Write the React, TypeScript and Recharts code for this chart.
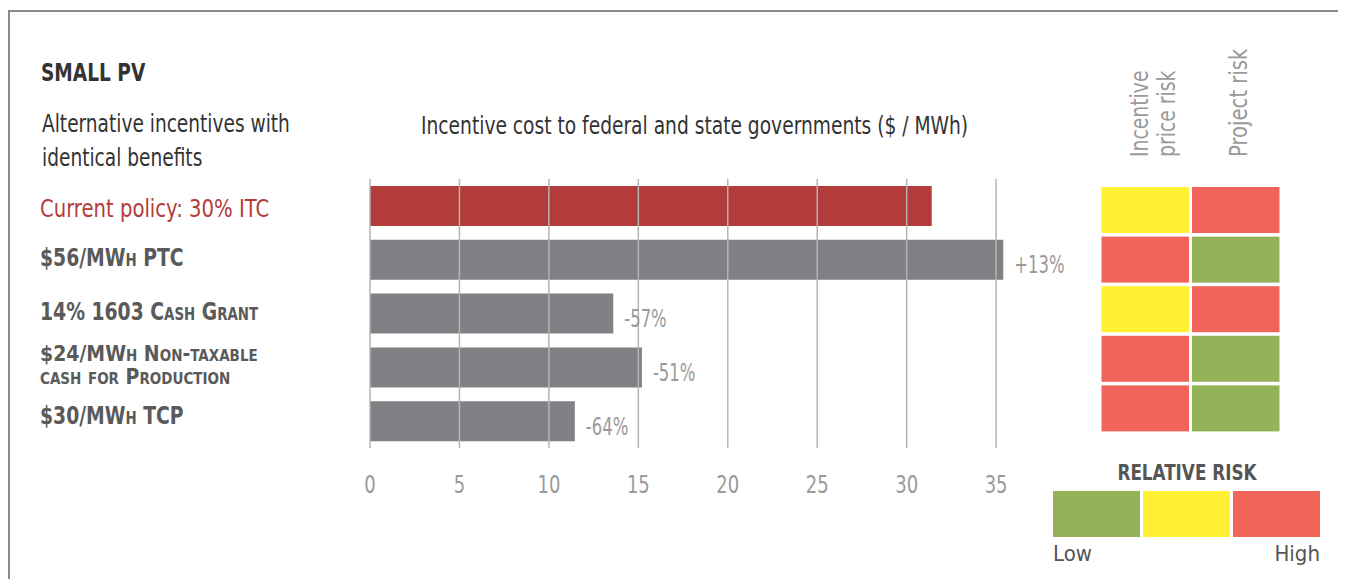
import React from "react";
import { BarChart, Bar, XAxis, YAxis, ReferenceLine, Cell, LabelList } from "recharts";

const categories = [
  "Current policy: 30% ITC",
  "$56/MWh PTC",
  "14% 1603 Cash Grant",
  "$24/MWh Non-taxable\ncash for Production",
  "$30/MWh TCP",
];
const incentiveCost = [31.4, 35.4, 13.6, 15.2, 11.45];
const changeLabels = ["", "+13%", "-57%", "-51%", "-64%"];
const xTicks = [0, 5, 10, 15, 20, 25, 30, 35];
const incentivePriceRisk = ["Medium", "High", "Medium", "High", "High"];
const projectRisk = ["High", "Low", "High", "Low", "Low"];
const riskLevels = ["Low", "Medium", "High"];

const FONT = "'Liberation Sans Narrow', 'DejaVu Sans Condensed', 'Roboto Condensed', 'Liberation Sans', sans-serif";
const RED = "#b33b39";
const GRAY_BAR = "#808184";
const riskColor: Record<string, string> = { Low: "#94b358", Medium: "#fff033", High: "#f0645a" };

const data = categories.map((name, i) => ({ name, cost: incentiveCost[i], change: changeLabels[i] }));
const riskData = categories.map((name, i) => ({
  name,
  priceCell: 1,
  projectCell: 1,
  priceRisk: incentivePriceRisk[i],
  projRisk: projectRisk[i],
}));

const CategoryTick = (props: any) => {
  const { y, payload, index } = props;
  const lines: string[] = String(payload.value).split("\n");
  const isCurrent = index === 0;
  const multi = lines.length > 1;
  const fs = multi ? 21 : 24;
  const sx = isCurrent ? 0.91 : multi ? 1 : 0.87;
  const lh = 23;
  const startDy = -((lines.length - 1) * lh) / 2;
  const yOff = index === 4 ? -6 : index === 0 ? 3 : -2;
  return (
    <text
      transform={`translate(32,${y + yOff}) scale(${sx},1)`}
      x={0}
      y={0}
      textAnchor="start"
      dominantBaseline="central"
      fontFamily={FONT}
      fontSize={fs}
      fontWeight={isCurrent ? 400 : 700}
      fill={isCurrent ? "#b33b39" : "#5a5a5a"}
      style={isCurrent ? undefined : { fontVariant: "small-caps" }}
    >
      {lines.map((l, k) => (
        <tspan key={k} x={0} dy={k === 0 ? startDy : lh}>
          {l}
        </tspan>
      ))}
    </text>
  );
};

const XTick = (props: any) => {
  const { x, y, payload } = props;
  return (
    <text
      transform={`translate(${x},${y + 8}) scale(0.8,1)`}
      textAnchor="middle"
      dominantBaseline="central"
      fontFamily={FONT}
      fontSize={25}
      fill="#9a9a9a"
    >
      {payload.value}
    </text>
  );
};

const ChangeLabel = (props: any) => {
  const { x, y, width, height, value } = props;
  if (!value) return null;
  return (
    <text
      transform={`translate(${x + width + 11},${y + height / 2 + 5}) scale(0.73,1)`}
      dominantBaseline="central"
      fontFamily={FONT}
      fontSize={25}
      fill="#9a9a9a"
    >
      {value}
    </text>
  );
};

const cellShape = (key: string) => (props: any) => {
  const { x, y, width, height, payload } = props;
  return <rect x={x + 1.5} y={y} width={Math.max(0, width - 3)} height={height} fill={riskColor[payload[key]]} />;
};

const Narrow = ({ sx, style, children }: any) => (
  <div style={{ position: "absolute", transform: `scaleX(${sx})`, transformOrigin: "0 0", whiteSpace: "nowrap", ...style }}>
    {children}
  </div>
);

export default function App() {
  return (
    <div style={{ position: "relative", width: 1338, height: 571, fontFamily: FONT }}>
      <style>{"html,body{overflow:hidden;}"}</style>
      <div
        style={{
          position: "absolute",
          left: 0,
          top: 2,
          width: 1336,
          height: 620,
          border: "2px solid #8a8a8a",
          boxSizing: "border-box",
        }}
      />
      <Narrow sx={0.86} style={{ left: 33, top: 51, fontSize: 24, fontWeight: 700, color: "#333" }}>
        SMALL PV
      </Narrow>
      <Narrow sx={0.86} style={{ left: 34, top: 99, fontSize: 24, lineHeight: "34px", color: "#333" }}>
        Alternative incentives with
        <br />
        identical benefits
      </Narrow>
      <Narrow sx={0.864} style={{ left: 413, top: 103, fontSize: 24, lineHeight: "30px", color: "#333" }}>
        Incentive cost to federal and state governments ($ / MWh)
      </Narrow>

      <div style={{ position: "absolute", left: 0, top: 0 }}>
        <BarChart
          layout="vertical"
          width={1075}
          height={520}
          data={data}
          margin={{ top: 171, right: 69, left: 0, bottom: 20 }}
          barSize={40}
        >
          <XAxis
            type="number"
            dataKey="cost"
            domain={[0, 36]}
            ticks={xTicks}
            axisLine={false}
            tickLine={false}
            tickMargin={22}
            height={60}
            tick={<XTick />}
          />
          <YAxis
            type="category"
            dataKey="name"
            width={362}
            axisLine={false}
            tickLine={false}
            tick={<CategoryTick />}
            interval={0}
          />
          <Bar dataKey="cost" isAnimationActive={false}>
            {data.map((d, i) => (
              <Cell key={i} fill={i === 0 ? RED : GRAY_BAR} />
            ))}
            <LabelList dataKey="change" content={<ChangeLabel />} />
          </Bar>
          {xTicks.map((t) => (
            <ReferenceLine key={t} x={t} stroke="#b4b4b4" strokeWidth={1.5} {...({ zIndex: 400 } as any)} />
          ))}
        </BarChart>
      </div>

      <div style={{ position: "absolute", left: 1092, top: 177 }}>
        <BarChart layout="vertical" width={181} height={248} data={riskData} margin={{ top: 0, right: 0, left: 0, bottom: 0 }} barSize={46}>
          <XAxis type="number" domain={[0, 2]} hide />
          <YAxis type="category" dataKey="name" hide width={0} />
          <Bar dataKey="priceCell" stackId="r" isAnimationActive={false} shape={cellShape("priceRisk")} />
          <Bar dataKey="projectCell" stackId="r" isAnimationActive={false} shape={cellShape("projRisk")} />
        </BarChart>
      </div>

      <svg style={{ position: "absolute", left: 0, top: 0 }} width={1330} height={571}>
        <g fontFamily={FONT} fontSize={24} fill="#9a9a9a">
          <text transform="translate(1140,149) rotate(-90) scale(0.87,1)">Incentive</text>
          <text transform="translate(1167,149) rotate(-90) scale(0.87,1)">price risk</text>
          <text transform="translate(1239,149) rotate(-90) scale(0.91,1)">Project risk</text>
        </g>
        <text
          transform="translate(1179,464) scale(0.85,1)"
          textAnchor="middle"
          dominantBaseline="central"
          fontFamily={FONT}
          fontSize={22}
          fontWeight={700}
          fill="#555"
        >
          RELATIVE RISK
        </text>
        {riskLevels.map((lvl, i) => (
          <rect key={lvl} x={1045 + i * 90} y={483} width={87} height={46} fill={riskColor[lvl]} />
        ))}
        <text x={1045} y={545} dominantBaseline="central" fontFamily={FONT} fontSize={22} fill="#555">
          Low
        </text>
        <text x={1312} y={545} textAnchor="end" dominantBaseline="central" fontFamily={FONT} fontSize={22} fill="#555">
          High
        </text>
      </svg>
    </div>
  );
}
